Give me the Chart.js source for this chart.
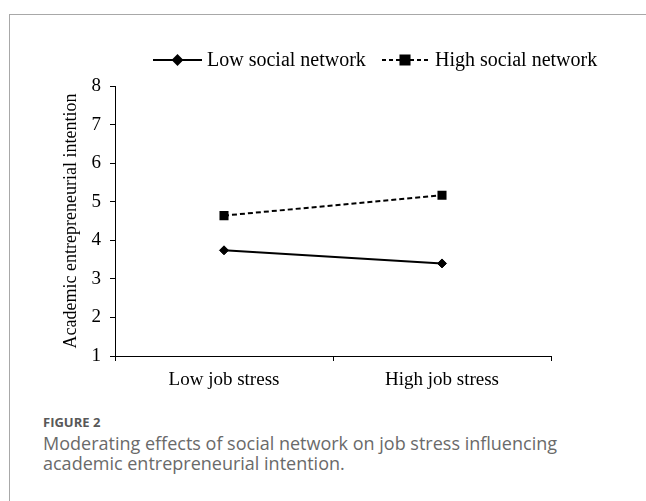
<!DOCTYPE html>
<html>
<head>
<meta charset="utf-8">
<script src="https://cdn.jsdelivr.net/npm/chart.js@4/dist/chart.umd.min.js"></script>
<style>
  html, body { margin: 0; padding: 0; width: 646px; height: 501px; overflow: hidden; background: #fff; }
  .card { position: absolute; left: 9px; top: 14px; width: 720px; height: 600px; border: 1px solid #a8a8a8; box-sizing: border-box; }
  .plot { position: absolute; left: 0; top: 0; width: 646px; height: 400px; }
  .caption { position: absolute; left: 43px; top: 412px; font-family: "Open Sans", sans-serif; color: #6a6a6a; }
  .caption .num { font-size: 13px; font-weight: 700; line-height: 20px; color: #585858; }
  .caption .text { font-size: 18px; line-height: 20px; margin-top: 1px; }
</style>
</head>
<body>
<div class="card"></div>
<div class="plot"><canvas id="chart" width="646" height="400"></canvas></div>
<div class="caption">
  <div class="num">FIGURE 2</div>
  <div class="text">Moderating effects of social network on job stress influencing<br>academic entrepreneurial intention.</div>
</div>
<script>
// Job stress levels on the x axis
const jobStress = ['Low job stress', 'High job stress'];
// Academic entrepreneurial intention by social network level
const lowSocialNetwork = [3.74, 3.40];
const highSocialNetwork = [4.64, 5.17];
// Y axis range and ticks
const yTicks = [1, 2, 3, 4, 5, 6, 7, 8];
const seriesNames = ['Low social network', 'High social network'];

const serif = '"Liberation Serif", "Times New Roman", serif';

// Legend drawn as line samples with their markers, centred above the plot
const lineLegend = {
  id: 'lineLegend',
  afterDraw(chart) {
    const ctx = chart.ctx;
    const items = [
      { ds: chart.data.datasets[0], x0: 153, x1: 202, tx: 207, dash: [] },
      { ds: chart.data.datasets[1], x0: 382, x1: 428, tx: 435, dash: [4, 3] }
    ];
    const y = 60;
    ctx.save();
    items.forEach(it => {
      ctx.strokeStyle = '#000';
      ctx.lineWidth = 2;
      ctx.setLineDash(it.dash);
      ctx.beginPath();
      ctx.moveTo(it.x0, y);
      ctx.lineTo(it.x1, y);
      ctx.stroke();
      ctx.setLineDash([]);
      Chart.helpers.drawPoint(ctx, {
        pointStyle: it.ds.pointStyle,
        radius: it.ds.pointRadius,
        borderWidth: 1,
        rotation: 0
      }, (it.x0 + it.x1) / 2, y);
      ctx.fillStyle = '#000';
      ctx.fill();
      ctx.font = '20px ' + serif;
      ctx.textBaseline = 'middle';
      ctx.textAlign = 'left';
      ctx.fillText(it.ds.label, it.tx, y + 1);
    });
    ctx.restore();
  }
};

new Chart(document.getElementById('chart'), {
  type: 'line',
  data: {
    labels: jobStress,
    datasets: [
      {
        label: seriesNames[0],
        data: lowSocialNetwork,
        borderColor: '#000',
        backgroundColor: '#000',
        borderWidth: 2,
        pointStyle: 'rectRot',
        pointRadius: 4.5,
        pointBorderWidth: 1,
        fill: false,
        tension: 0
      },
      {
        label: seriesNames[1],
        data: highSocialNetwork,
        borderColor: '#000',
        backgroundColor: '#000',
        borderWidth: 2,
        borderDash: [5, 3],
        pointStyle: 'rect',
        pointRadius: 6.4,
        pointBorderWidth: 0,
        fill: false,
        tension: 0
      }
    ]
  },
  options: {
    responsive: false,
    animation: false,
    layout: { padding: { top: 86, bottom: 4, left: 56, right: 95 } },
    plugins: {
      legend: { display: false },
      tooltip: { enabled: false }
    },
    scales: {
      x: {
        type: 'category',
        offset: true,
        grid: { offset: true, drawOnChartArea: false, drawTicks: true, tickLength: 5, color: '#000', lineWidth: 1 },
        border: { color: '#000', width: 1 },
        ticks: { color: '#000', font: { family: serif, size: 19 }, padding: 8, maxRotation: 0 },
        afterFit(scale) { scale.height = 40; }
      },
      y: {
        min: yTicks[0],
        max: yTicks[yTicks.length - 1],
        afterBuildTicks(scale) { scale.ticks = yTicks.map(v => ({ value: v })); },
        grid: { drawOnChartArea: false, drawTicks: true, tickLength: 5, color: '#000', lineWidth: 1 },
        border: { color: '#000', width: 1 },
        ticks: { color: '#000', font: { family: serif, size: 19 }, padding: 9 },
        title: {
          display: true,
          text: 'Academic entrepreneurial intention',
          color: '#000',
          font: { family: serif, size: 18 },
          padding: { top: 4, bottom: 0 }
        },
        afterFit(scale) { scale.width = 59; }
      }
    }
  },
  plugins: [lineLegend]
});
</script>
</body>
</html>
